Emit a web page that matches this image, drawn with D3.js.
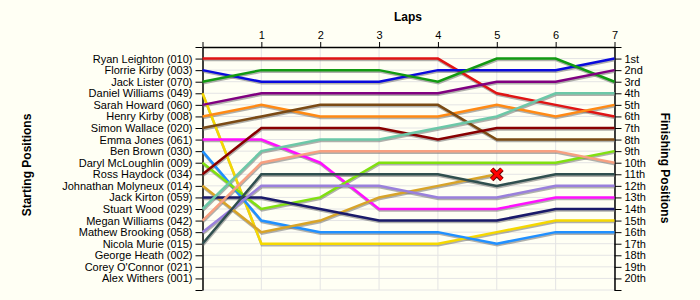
<!DOCTYPE html>
<html>
<head>
<meta charset="utf-8">
<script src="https://cdn.jsdelivr.net/npm/d3@7"></script>
<style>
  body { margin: 0; background: #fffff4; }
  svg { display: block; font-family: Arial, "Liberation Sans", sans-serif; }
  .axis text { font-size: 11px; fill: #000; }
  .axis path, .axis line { stroke: #000; }
  .title { font-size: 12px; font-weight: bold; fill: #000; }
</style>
</head>
<body>
<div id="chart"></div>
<script>
var width = 700, height = 300;

// starting grid order
var drivers = ["Ryan Leighton (010)", "Florrie Kirby (003)", "Jack Lister (070)", "Daniel Williams (049)",
    "Sarah Howard (060)", "Henry Kirby (008)", "Simon Wallace (020)", "Emma Jones (061)", "Ben Brown (030)",
    "Daryl McLoughlin (009)", "Ross Haydock (034)", "Johnathan Molyneux (014)", "Jack Kirton (059)",
    "Stuart Wood (029)", "Megan Williams (042)", "Mathew Brooking (058)", "Nicola Murie (015)",
    "George Heath (002)", "Corey O'Connor (021)", "Alex Withers (001)"];

var colors = ["#e01414", "#0a0adc", "#129a12", "#f5d800", "#800080", "#ff8a14", "#7a4a14", "#ff10ff",
    "#2090ff", "#80e010", "#880000", "#d8a428", "#1a1a6a", "#6cc8a8", "#f8a080", "#9a80dc", "#2f4f4f"];

var laps = [0, 1, 2, 3, 4, 5, 6, 7];
var lapLabels = ["", "1", "2", "3", "4", "5", "6", "7"];

// position at end of each lap, index = starting position - 1
var positions = [
    [1, 1, 1, 1, 1, 4, 5, 6],
    [2, 3, 3, 3, 2, 2, 2, 1],
    [3, 2, 2, 2, 3, 1, 1, 3],
    [4, 17, 17, 17, 17, 16, 15, 15],
    [5, 4, 4, 4, 4, 3, 3, 2],
    [6, 5, 6, 6, 6, 5, 6, 5],
    [7, 6, 5, 5, 5, 8, 8, 8],
    [8, 8, 10, 14, 14, 14, 13, 13],
    [9, 15, 16, 16, 16, 17, 16, 16],
    [10, 14, 13, 10, 10, 10, 10, 9],
    [11, 7, 7, 7, 8, 7, 7, 7],
    [12, 16, 15, 13, 12, 11],
    [13, 13, 14, 15, 15, 15, 14, 14],
    [14, 9, 8, 8, 7, 6, 4, 4],
    [15, 10, 9, 9, 9, 9, 9, 10],
    [16, 12, 12, 12, 13, 13, 12, 12],
    [17, 11, 11, 11, 11, 12, 11, 11]
];

var finishLabels = ["1st", "2nd", "3rd", "4th", "5th", "6th", "7th", "8th", "9th", "10th",
    "11th", "12th", "13th", "14th", "15th", "16th", "17th", "18th", "19th", "20th"];

var x = d3.scaleLinear().domain([0, 7]).range([202.5, 614.5]);
var y = d3.scaleLinear().domain([0, 21]).range([47, 290]);

var svg = d3.select("#chart").append("svg")
    .attr("width", width)
    .attr("height", height);

// grid
var grid = svg.append("g");
grid.selectAll("line.h")
    .data(d3.range(1, 22)).enter()
    .append("line")
    .attr("x1", x(0)).attr("x2", x(7))
    .attr("y1", function (d) { return y(d); })
    .attr("y2", function (d) { return y(d); })
    .attr("stroke", "#e4e4e4");
grid.selectAll("line.v")
    .data(laps.slice(1)).enter()
    .append("line")
    .attr("y1", y(0)).attr("y2", y(21))
    .attr("x1", function (d) { return x(d); })
    .attr("x2", function (d) { return x(d); })
    .attr("stroke", "#e4e4e4");

// axes
svg.append("g")
    .attr("class", "axis")
    .attr("transform", "translate(" + x(0) + ",0)")
    .call(d3.axisLeft(y).tickValues(d3.range(0, 22)).tickSize(7).tickSizeOuter(0)
        .tickFormat(function (d) { return drivers[d - 1] || ""; }));

svg.append("g")
    .attr("class", "axis")
    .attr("transform", "translate(" + x(7) + ",0)")
    .call(d3.axisRight(y).tickValues(d3.range(0, 22)).tickSize(7).tickSizeOuter(0)
        .tickFormat(function (d) { return finishLabels[d - 1] || ""; }));

svg.append("g")
    .attr("class", "axis")
    .attr("transform", "translate(0," + y(0) + ")")
    .call(d3.axisTop(x).tickValues(laps).tickSize(5).tickSizeOuter(0)
        .tickFormat(function (d) { return lapLabels[d]; }));

svg.selectAll(".axis .domain").attr("stroke-width", 1.5);

// lines
var line = d3.line()
    .x(function (d, i) { return x(laps[i]); })
    .y(function (d) { return y(d); });

var lines = svg.append("g");
lines.selectAll("path.shadow")
    .data(positions).enter()
    .append("path")
    .attr("d", line)
    .attr("transform", "translate(0.5,1.5)")
    .attr("fill", "none")
    .attr("stroke", "#707070")
    .attr("stroke-opacity", 0.55)
    .attr("stroke-width", 2.5);
lines.selectAll("path.series")
    .data(positions).enter()
    .append("path")
    .attr("d", line)
    .attr("fill", "none")
    .attr("stroke", function (d, i) { return colors[i]; })
    .attr("stroke-width", 2.5);

// retirement marker
var retired = positions.filter(function (d) { return d.length < laps.length; });
svg.selectAll("path.cross")
    .data(retired).enter()
    .append("path")
    .attr("d", d3.symbol().type(d3.symbolX).size(70))
    .attr("transform", function (d) {
        return "translate(" + x(laps[d.length - 1]) + "," + y(d[d.length - 1]) + ")";
    })
    .attr("fill", "none")
    .attr("stroke", "#600")
    .attr("stroke-width", 5)
    .clone(true)
    .attr("stroke", "#ff0000")
    .attr("stroke-width", 3);

// titles
svg.append("text").attr("class", "title")
    .attr("x", 408).attr("y", 21)
    .attr("text-anchor", "middle")
    .text("Laps");
svg.append("text").attr("class", "title")
    .attr("transform", "translate(31,165) rotate(-90)")
    .attr("text-anchor", "middle")
    .text("Starting Positions");
svg.append("text").attr("class", "title")
    .attr("transform", "translate(661,168) rotate(90)")
    .attr("text-anchor", "middle")
    .text("Finishing Positions");
</script>
</body>
</html>
